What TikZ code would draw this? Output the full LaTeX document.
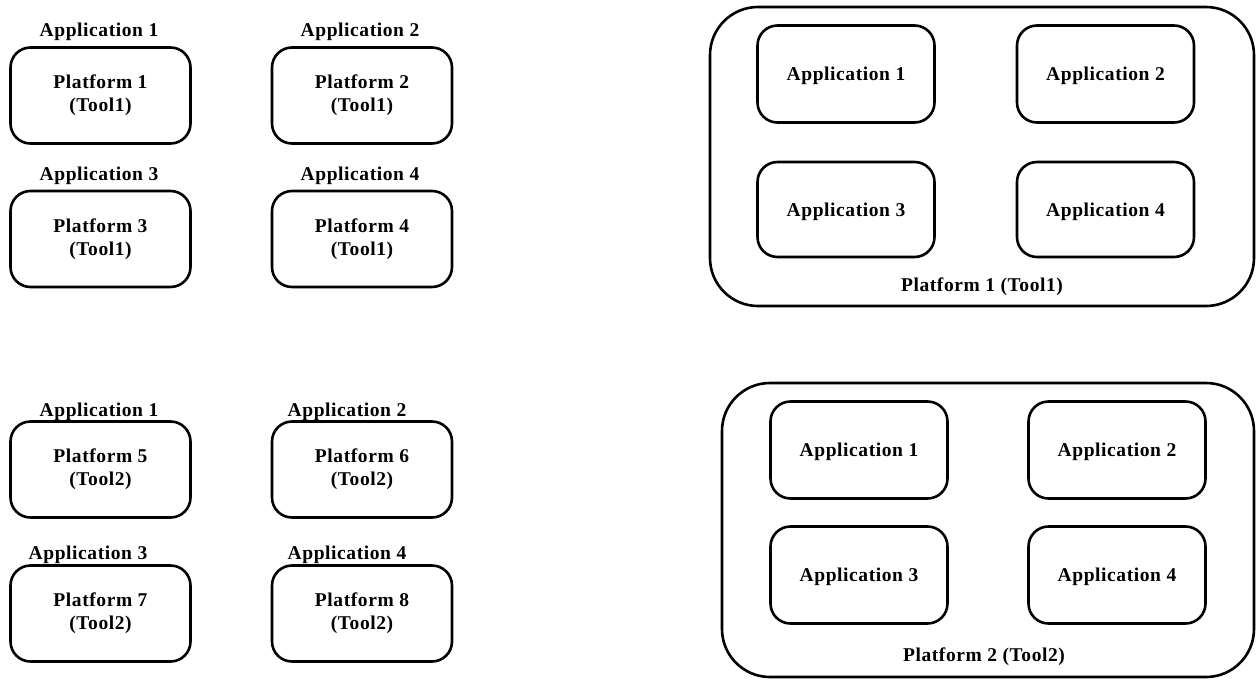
\documentclass[tikz,border=0pt]{standalone}
\usepackage{fontspec}
\setmainfont{Liberation Serif}[LetterSpace=3]
\begin{document}
\begin{tikzpicture}[x=1pt,y=-1pt,
  every node/.style={font=\fontsize{19.5}{23}\selectfont\bfseries, text=black},
  platbox/.style={draw, line width=2.6pt, rounded corners=20pt, minimum width=180pt, minimum height=96pt, align=center, inner sep=0pt},
  appbox/.style={draw, line width=2.6pt, rounded corners=20pt, minimum width=177pt, minimum height=97pt, inner sep=0pt, text depth=0pt},
  bigbox/.style={draw, line width=2.6pt, rounded corners=48pt, inner sep=0pt},
  lab/.style={anchor=base, inner sep=0pt}]
\useasboundingbox (0,0) rectangle (1259,680);

% Left, Tool1
\node[platbox] (p1) at (100.5,95.5) {Platform 1\\(Tool1)};
\node[platbox] (p2) at (362,95.5) {Platform 2\\(Tool1)};
\node[platbox] (p3) at (100.5,239) {Platform 3\\(Tool1)};
\node[platbox] (p4) at (362,239) {Platform 4\\(Tool1)};
\node[lab] (l1) at (99,36) {Application 1};
\node[lab] (l2) at (360,36) {Application 2};
\node[lab] (l3) at (99,180) {Application 3};
\node[lab] (l4) at (360,180) {Application 4};

% Left, Tool2
\node[platbox] (p5) at (100.5,469.5) {Platform 5\\(Tool2)};
\node[platbox] (p6) at (362,469.5) {Platform 6\\(Tool2)};
\node[platbox] (p7) at (100.5,613.5) {Platform 7\\(Tool2)};
\node[platbox] (p8) at (362,613.5) {Platform 8\\(Tool2)};
\node[lab] (l5) at (99,416) {Application 1};
\node[lab] (l6) at (347,416) {Application 2};
\node[lab] (l7) at (88,559) {Application 3};
\node[lab] (l8) at (347,559) {Application 4};

% Right, Platform 1
\node[bigbox, minimum width=544pt, minimum height=299pt] (big1) at (982,156.5) {};
\node[appbox] (a11) at (846,74) {Application 1};
\node[appbox] (a12) at (1105.5,74) {Application 2};
\node[appbox, minimum height=95pt] (a13) at (846,209.5) {Application 3};
\node[appbox, minimum height=95pt] (a14) at (1105.5,209.5) {Application 4};
\node[lab] (t1) at (982,291) {Platform 1 (Tool1)};

% Right, Platform 2
\node[bigbox, minimum width=532pt, minimum height=294pt] (big2) at (988,530) {};
\node[appbox] (a21) at (859,450) {Application 1};
\node[appbox] (a22) at (1117,450) {Application 2};
\node[appbox] (a23) at (859,575) {Application 3};
\node[appbox] (a24) at (1117,575) {Application 4};
\node[lab] (t2) at (984,661) {Platform 2 (Tool2)};
\end{tikzpicture}
\end{document}
